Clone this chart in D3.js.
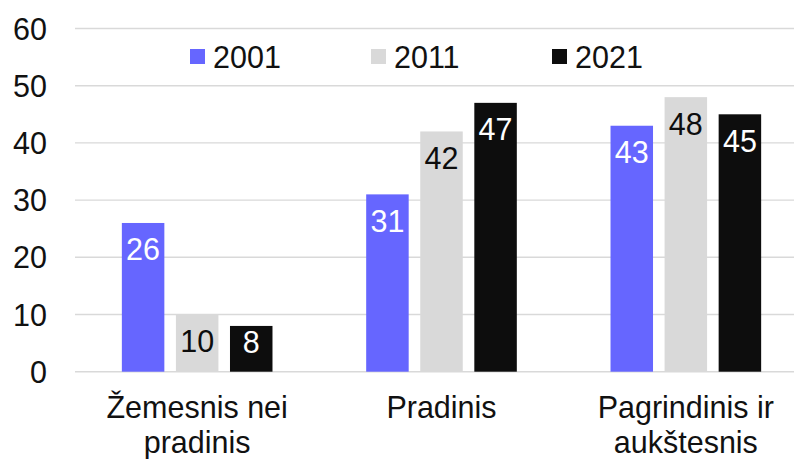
<!DOCTYPE html>
<html>
<head>
<meta charset="utf-8">
<script src="https://cdn.jsdelivr.net/npm/d3@7"></script>
<style>
  body { margin: 0; background: #fff; }
  text { font-family: "Liberation Sans", Arial, sans-serif; }
</style>
</head>
<body>
<div id="chart"></div>
<script>
// data
var categories = [["Žemesnis nei", "pradinis"], ["Pradinis"], ["Pagrindinis ir", "aukštesnis"]];
var catKeys = ["c0", "c1", "c2"];
var seriesNames = ["2001", "2011", "2021"];
var values2001 = [26, 31, 43];
var values2011 = [10, 42, 48];
var values2021 = [8, 47, 45];
var seriesColors = ["#6666ff", "#d9d9d9", "#0d0d0d"];
var labelColors = ["#ffffff", "#0d0d0d", "#ffffff"];
var yTicks = [0, 10, 20, 30, 40, 50, 60];

var allValues = [values2001, values2011, values2021];

var W = 794, H = 459;
var plotLeft = 75, plotRight = 808, plotTop = 28.5, plotBottom = 371.7;
var fontSize = 30.5;

var svg = d3.select("#chart").append("svg")
  .attr("width", W)
  .attr("height", H);

var x0 = d3.scaleBand()
  .domain(catKeys)
  .range([plotLeft, plotRight])
  .paddingInner(0.3835)
  .paddingOuter(0.3835 / 2);

var x1 = d3.scaleBand()
  .domain(seriesNames)
  .range([0, x0.bandwidth()])
  .paddingInner(0.214)
  .paddingOuter(0);

var y = d3.scaleLinear()
  .domain([0, 60])
  .range([plotBottom, plotTop]);

// gridlines
svg.append("g")
  .selectAll("line")
  .data(yTicks)
  .join("line")
  .attr("x1", plotLeft)
  .attr("x2", W)
  .attr("y1", function(d) { return y(d); })
  .attr("y2", function(d) { return y(d); })
  .attr("stroke", "#d9d9d9")
  .attr("stroke-width", 1.4);

// y axis labels
var yAxis = d3.axisLeft(y).tickValues(yTicks).tickSize(0).tickPadding(28);
var yg = svg.append("g")
  .attr("transform", "translate(" + plotLeft + ",0)")
  .call(yAxis);
yg.select(".domain").remove();
yg.selectAll("text")
  .attr("font-family", "Liberation Sans, Arial, sans-serif")
  .attr("font-size", fontSize)
  .attr("fill", "#111")
  .attr("dy", "0.35em");

// bars
var groups = svg.append("g")
  .selectAll("g")
  .data(catKeys)
  .join("g")
  .attr("transform", function(d) { return "translate(" + x0(d) + ",0)"; });

groups.selectAll("rect")
  .data(function(d, i) {
    return seriesNames.map(function(s, j) { return {s: s, j: j, v: allValues[j][i]}; });
  })
  .join("rect")
  .attr("x", function(d) { return x1(d.s); })
  .attr("y", function(d) { return y(d.v); })
  .attr("width", x1.bandwidth())
  .attr("height", function(d) { return y(0) - y(d.v); })
  .attr("fill", function(d) { return seriesColors[d.j]; });

groups.selectAll("text.val")
  .data(function(d, i) {
    return seriesNames.map(function(s, j) { return {s: s, j: j, v: allValues[j][i]}; });
  })
  .join("text")
  .attr("class", "val")
  .attr("x", function(d) { return x1(d.s) + x1.bandwidth() / 2; })
  .attr("y", function(d) { return Math.min(y(d.v) + 37.5, y(0) - 18.5); })
  .attr("text-anchor", "middle")
  .attr("font-size", fontSize)
  .attr("fill", function(d) { return labelColors[d.j]; })
  .text(function(d) { return d.v; });

// category labels
svg.append("g")
  .selectAll("text")
  .data(categories)
  .join("text")
  .attr("x", function(d, i) { return x0(catKeys[i]) + x0.bandwidth() / 2; })
  .attr("y", 418)
  .attr("text-anchor", "middle")
  .attr("font-size", fontSize)
  .attr("fill", "#111")
  .each(function(d) {
    var t = d3.select(this);
    d.forEach(function(line, k) {
      t.append("tspan")
        .attr("x", t.attr("x"))
        .attr("dy", k === 0 ? 0 : 35)
        .text(line);
    });
  });

// legend
var legend = svg.append("g")
  .selectAll("g")
  .data(seriesNames)
  .join("g")
  .attr("transform", function(d, i) { return "translate(" + (190 + i * 181) + ",49)"; });

legend.append("rect")
  .attr("width", 15)
  .attr("height", 15)
  .attr("fill", function(d, i) { return seriesColors[i]; });

legend.append("text")
  .attr("x", 23)
  .attr("y", 18.5)
  .attr("font-size", fontSize)
  .attr("fill", "#111")
  .text(function(d) { return d; });
</script>
</body>
</html>
